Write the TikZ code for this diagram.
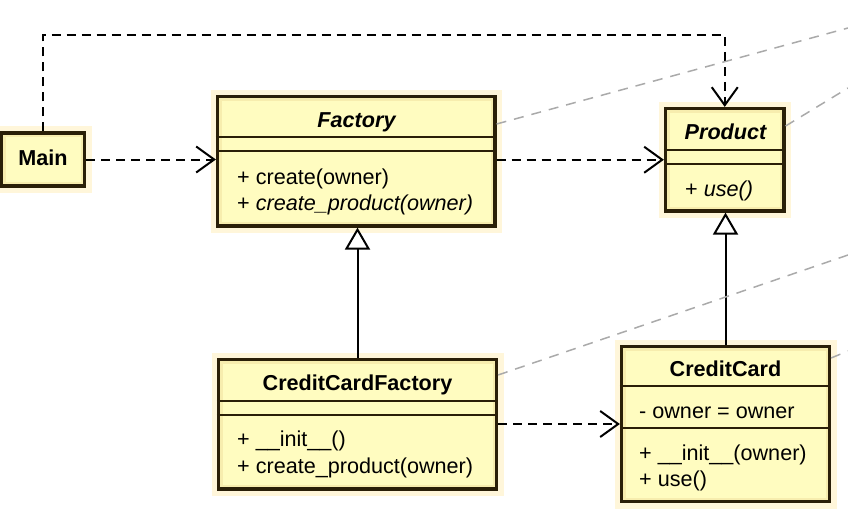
\documentclass[tikz,border=0pt]{standalone}
\usepackage{fontspec}
\setmainfont{Liberation Sans}
\usetikzlibrary{arrows.meta}
\definecolor{boxfill}{HTML}{FFFCC0}
\definecolor{boxrim}{HTML}{F7EDAE}
\definecolor{boxglow}{HTML}{FFF6DA}
\definecolor{boxline}{HTML}{2A1F08}
\definecolor{notegray}{HTML}{AAAAAA}
\begin{document}
\begin{tikzpicture}[x=1pt,y=-1pt,
  umlbox/.style={rectangle, inner sep=0pt, fill=boxfill, draw=boxline, line width=3.2pt,
    preaction={draw=boxglow, line width=14pt},
    path picture={\draw[boxrim, line width=8pt] (path picture bounding box.south west) rectangle (path picture bounding box.north east);}},
  secline/.style={draw=boxline, line width=1.5pt},
  lbl/.style={inner sep=0pt, font=\fontsize{21.6pt}{26pt}\selectfont},
  dep/.style={draw=black, line width=2pt, dash pattern=on 9pt off 6pt, -{Straight Barb[length=18pt, width=26pt, line width=2pt]}},
  inh/.style={draw=black, line width=2pt, -{Triangle[open, length=22pt, width=25pt, line width=2pt, fill=white]}},
  notelink/.style={draw=notegray, line width=1.5pt, dash pattern=on 10pt off 8pt}
]
\useasboundingbox (0,0) rectangle (848,522);

% boxes
\node[umlbox, minimum width=83pt, minimum height=53pt] (main) at (43,159.5) {};
\node[umlbox, minimum width=277.5pt, minimum height=129.5pt] (factory) at (356.25,161.25) {};
\node[umlbox, minimum width=118.5pt, minimum height=102.5pt] (product) at (724.75,159.75) {};
\node[umlbox, minimum width=278pt, minimum height=129.5pt] (ccf) at (357.5,424.25) {};
\node[umlbox, minimum width=208pt, minimum height=155pt] (cc) at (725.5,424) {};

% section lines
\draw[secline] (factory.west |- 0,137) -- (factory.east |- 0,137);
\draw[secline] (factory.west |- 0,151) -- (factory.east |- 0,151);
\draw[secline] (product.west |- 0,150) -- (product.east |- 0,150);
\draw[secline] (product.west |- 0,164) -- (product.east |- 0,164);
\draw[secline] (ccf.west |- 0,401) -- (ccf.east |- 0,401);
\draw[secline] (ccf.west |- 0,415) -- (ccf.east |- 0,415);
\draw[secline] (cc.west |- 0,386) -- (cc.east |- 0,386);
\draw[secline] (cc.west |- 0,428) -- (cc.east |- 0,428);

% texts
\node[lbl, anchor=base] (tmain) at (43,165) {\bfseries Main};
\node[lbl, anchor=base] (tfactory) at (356.5,127) {\bfseries\itshape Factory};
\node[lbl, anchor=base west] (fm1) at (237,184) {+ create(owner)};
\node[lbl, anchor=base west] (fm2) at (237,210) {+ \itshape create\_product(owner)};
\node[lbl, anchor=base] (tproduct) at (725.5,139) {\bfseries\itshape Product};
\node[lbl, anchor=base west] (pm1) at (685,196) {+ \itshape use()};
\node[lbl, anchor=base] (tccf) at (357.5,390) {\bfseries CreditCardFactory};
\node[lbl, anchor=base west] (cfm1) at (237,446) {+ \_\_init\_\_()};
\node[lbl, anchor=base west] (cfm2) at (237,473) {+ create\_product(owner)};
\node[lbl, anchor=base] (tcc) at (725.5,376) {\bfseries CreditCard};
\node[lbl, anchor=base west] (cca1) at (639,418) {- owner = owner};
\node[lbl, anchor=base west] (ccm1) at (639,460) {+ \_\_init\_\_(owner)};
\node[lbl, anchor=base west] (ccm2) at (639,486) {+ use()};

% connectors
\draw[dep] (main.north) -- (main.north |- 0,35) -- (product.north |- 0,35) -- (product.north);
\draw[dep] (main.east) -- (main.east -| factory.west);
\draw[dep] (factory.east |- product.west) -- (product.west);
\draw[dep] (ccf.east |- cc.west) -- (cc.west);
\draw[inh] (ccf.north) -- (ccf.north |- factory.south);
\draw[inh] (cc.north) -- (cc.north |- product.south);

% links to notes outside the picture
\coordinate (n1) at (848,28);
\coordinate (n2) at (848,88);
\coordinate (n3) at (848,255);
\coordinate (n4) at (848,351);
\draw[notelink] (factory.east |- 0,124) -- (n1);
\draw[notelink] (product.east |- 0,126) -- (n2);
\draw[notelink] (ccf.east |- 0,375) -- (n3);
\draw[notelink] (cc.east |- 0,358) -- (n4);
\end{tikzpicture}
\end{document}
